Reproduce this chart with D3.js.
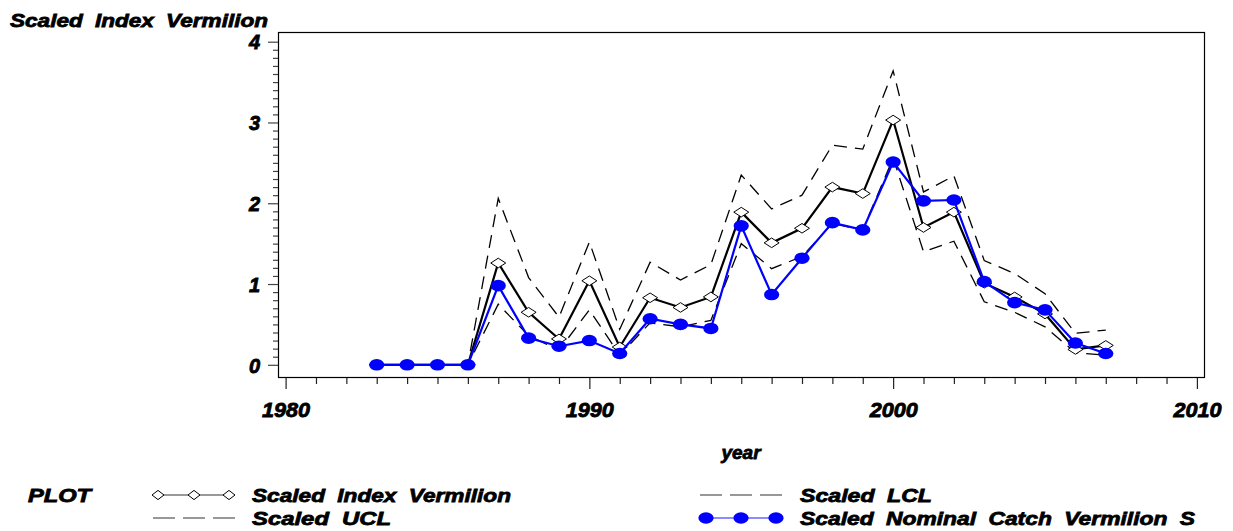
<!DOCTYPE html>
<html>
<head>
<meta charset="utf-8">
<script src="https://cdn.jsdelivr.net/npm/d3@7"></script>
<style>
  html, body { margin: 0; padding: 0; background: #fff; }
  svg text { font-family: "Liberation Sans", Arial, sans-serif; font-weight: bold; font-style: italic; fill: #000; stroke: #000; stroke-width: 0.8px; word-spacing: 5px; }
</style>
</head>
<body>
<svg id="chart" width="1233" height="531"></svg>
<script>
// Annual series, 1983-2007
const years = [1983,1984,1985,1986,1987,1988,1989,1990,1991,1992,1993,1994,1995,1996,1997,1998,1999,2000,2001,2002,2003,2004,2005,2006,2007];
const scaledIndex = [0,0,0,0,1.26,0.65,0.32,1.04,0.22,0.83,0.71,0.84,1.89,1.51,1.69,2.20,2.12,3.03,1.70,1.89,1.01,0.84,0.63,0.19,0.24];
const scaledUCL   = [0,0,0,0,2.06,1.08,0.59,1.52,0.44,1.27,1.05,1.24,2.35,1.93,2.10,2.72,2.67,3.64,2.14,2.34,1.29,1.13,0.88,0.39,0.43];
const scaledLCL   = [0,0,0,0,0.75,0.36,0.18,0.68,0.12,0.52,0.47,0.55,1.50,1.19,1.34,1.75,1.67,2.56,1.40,1.53,0.78,0.65,0.47,0.15,0.12];
const nominalCatch = [0,0,0,0,0.98,0.33,0.23,0.30,0.14,0.57,0.50,0.45,1.72,0.87,1.32,1.76,1.67,2.51,2.03,2.04,1.03,0.77,0.68,0.27,0.14];

const xMajor = [1980,1990,2000,2010];
const yMajor = [0,1,2,3,4];

const svg = d3.select("#chart");

const frame = { left: 278, top: 32, right: 1204, bottom: 377 };
const x = d3.scaleLinear().domain([1980, 2010]).range([285.6, 1196.9]);
const y = d3.scaleLinear().domain([0, 4]).range([364.8, 41.7]);

// plot frame
svg.append("rect")
  .attr("x", frame.left + 0.5).attr("y", frame.top + 0.5)
  .attr("width", frame.right - frame.left).attr("height", frame.bottom - frame.top)
  .attr("fill", "none").attr("stroke", "#000").attr("stroke-width", 1.2);

// y axis: minor ticks every 0.1, majors at integers
const yMinor = d3.range(0, 40.5).map(i => i / 10).filter(v => !yMajor.includes(v));
const yAxisG = svg.append("g").attr("transform", `translate(${frame.left},0)`);
yAxisG.call(d3.axisLeft(y).tickValues(yMinor).tickSize(5).tickFormat(""))
  .call(g => g.select(".domain").remove());
yAxisG.append("g").call(d3.axisLeft(y).tickValues(yMajor).tickSize(10).tickPadding(8).tickFormat(d3.format("d")))
  .call(g => g.select(".domain").remove())
  .call(g => g.selectAll("text").style("font-size", "20px").attr("dy", "0.36em"));
yAxisG.selectAll("line").attr("stroke", "#444").attr("stroke-width", 1.2);

// x axis: minor ticks every year, majors each decade
const xMinor = d3.range(1980, 2011).filter(v => !xMajor.includes(v));
const xAxisG = svg.append("g").attr("transform", `translate(0,${frame.bottom + 1})`);
xAxisG.call(d3.axisBottom(x).tickValues(xMinor).tickSize(6).tickFormat(""))
  .call(g => g.select(".domain").remove());
xAxisG.append("g").call(d3.axisBottom(x).tickValues(xMajor).tickSize(11).tickPadding(14).tickFormat(d3.format("d")))
  .call(g => g.select(".domain").remove())
  .call(g => g.selectAll("text").style("font-size", "20px").attr("dy", "0.71em")
    .attr("textLength", 48).attr("lengthAdjust", "spacingAndGlyphs"));
xAxisG.selectAll("line").attr("stroke", "#222").attr("stroke-width", 1.2);

// series lines
const line = vals => d3.line().x((d, i) => x(years[i])).y(d => y(d))(vals);

svg.append("path").attr("d", line(scaledUCL))
  .attr("fill", "none").attr("stroke", "#000").attr("stroke-width", 1.3).attr("stroke-dasharray", "13,8");
svg.append("path").attr("d", line(scaledLCL))
  .attr("fill", "none").attr("stroke", "#000").attr("stroke-width", 1.3).attr("stroke-dasharray", "13,8");

svg.append("path").attr("d", line(scaledIndex))
  .attr("fill", "none").attr("stroke", "#000").attr("stroke-width", 2.2);

const diamond = (cx, cy, hw, hh) => `M${cx},${cy - hh}L${cx + hw},${cy}L${cx},${cy + hh}L${cx - hw},${cy}Z`;
svg.append("g").selectAll("path").data(scaledIndex).join("path")
  .attr("d", (d, i) => diamond(x(years[i]), y(d), 7.5, 4.8))
  .attr("fill", "#fff").attr("stroke", "#000").attr("stroke-width", 1);

svg.append("path").attr("d", line(nominalCatch))
  .attr("fill", "none").attr("stroke", "#0000ff").attr("stroke-width", 2.2);
svg.append("g").selectAll("ellipse").data(nominalCatch).join("ellipse")
  .attr("cx", (d, i) => x(years[i])).attr("cy", d => y(d))
  .attr("rx", 7.6).attr("ry", 5.8).attr("fill", "#0000ff");

// titles
svg.append("text").attr("x", 10).attr("y", 26.5).style("font-size", "19px")
  .attr("textLength", 258).attr("lengthAdjust", "spacingAndGlyphs")
  .text("Scaled Index Vermilion");
svg.append("text").attr("x", 741).attr("y", 459).attr("text-anchor", "middle").style("font-size", "19px")
  .text("year");

// legend
const lg = svg.append("g");
lg.append("text").attr("x", 28).attr("y", 502).style("font-size", "19px")
  .attr("textLength", 63).attr("lengthAdjust", "spacingAndGlyphs").text("PLOT");

// row 1, left: index symbol
lg.append("line").attr("x1", 158).attr("x2", 229).attr("y1", 495).attr("y2", 495)
  .attr("stroke", "#777").attr("stroke-width", 1.3);
[158, 194, 229].forEach(cx => lg.append("path").attr("d", diamond(cx, 495, 6, 4.6))
  .attr("fill", "#fff").attr("stroke", "#000").attr("stroke-width", 1));
lg.append("text").attr("x", 252).attr("y", 502).style("font-size", "19px")
  .attr("textLength", 259).attr("lengthAdjust", "spacingAndGlyphs").text("Scaled Index Vermilion");

// row 2, left: UCL
lg.append("line").attr("x1", 153).attr("x2", 235).attr("y1", 518).attr("y2", 518)
  .attr("stroke", "#777").attr("stroke-width", 1.3).attr("stroke-dasharray", "22,8");
lg.append("text").attr("x", 252).attr("y", 525).style("font-size", "19px")
  .attr("textLength", 139).attr("lengthAdjust", "spacingAndGlyphs").text("Scaled UCL");

// row 1, right: LCL
lg.append("line").attr("x1", 700).attr("x2", 783).attr("y1", 495).attr("y2", 495)
  .attr("stroke", "#777").attr("stroke-width", 1.3).attr("stroke-dasharray", "22,8");
lg.append("text").attr("x", 800).attr("y", 502).style("font-size", "19px")
  .attr("textLength", 132).attr("lengthAdjust", "spacingAndGlyphs").text("Scaled LCL");

// row 2, right: nominal catch
lg.append("line").attr("x1", 706).attr("x2", 776).attr("y1", 518).attr("y2", 518)
  .attr("stroke", "#6666ff").attr("stroke-width", 1.3);
[706, 741, 776].forEach(cx => lg.append("ellipse").attr("cx", cx).attr("cy", 518)
  .attr("rx", 7.6).attr("ry", 5.8).attr("fill", "#0000ff"));
lg.append("text").attr("x", 800).attr("y", 525).style("font-size", "19px")
  .attr("textLength", 395).attr("lengthAdjust", "spacingAndGlyphs").text("Scaled Nominal Catch Vermilion S");
</script>
</body>
</html>
